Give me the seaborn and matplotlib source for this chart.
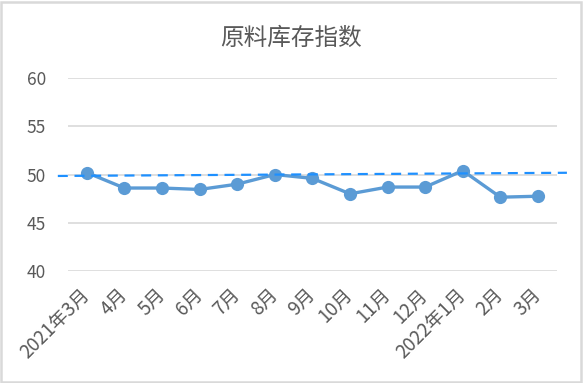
import matplotlib
matplotlib.use("Agg")
import matplotlib.pyplot as plt
import seaborn as sns
import pandas as pd
from matplotlib.patches import Rectangle

months = ["2021年3月", "4月", "5月", "6月", "7月", "8月", "9月", "10月",
          "11月", "12月", "2022年1月", "2月", "3月"]
values = [50.2, 48.6, 48.6, 48.45, 49.0, 50.0, 49.6, 48.0, 48.7, 48.7, 50.4, 47.65, 47.75]
trend_x = [-0.77, 12.77]
trend_y = [49.85, 50.18]
y_ticks = [40, 45, 50, 55, 60]
title = "原料库存指数"

sns.set_theme(style="white")
plt.rcParams["font.family"] = ["Noto Sans CJK SC", "DejaVu Sans"]

text_color = "#595959"
grid_color = "#D9D9D9"
line_color = "#5B9BD5"
trend_color = "#1E90FF"

fig = plt.figure(figsize=(5.83, 3.83), dpi=100)
ax = fig.add_axes([0.1166, 0.2924, 0.8384, 0.5039])

df = pd.DataFrame({"x": range(len(months)), "y": values})
sns.lineplot(data=df, x="x", y="y", ax=ax, color=line_color, linewidth=2.4,
             marker="o", markersize=9.5, markeredgewidth=0, zorder=3)
ax.plot(trend_x, trend_y, color=trend_color, linewidth=1.6,
        dashes=(4.5, 3), clip_on=False, zorder=4)

ax.set_xlim(-0.5, len(months) - 0.5)
ax.set_ylim(40, 60)
ax.set_yticks(y_ticks)
ax.set_yticklabels([str(t) for t in y_ticks])
ax.set_xticks(range(len(months)))
ax.set_xticklabels(months, rotation=45, ha="right", va="center",
                   rotation_mode="anchor")
ax.tick_params(axis="x", length=0, pad=15, labelsize=13.5, colors=text_color)
ax.tick_params(axis="y", length=0, pad=16, labelsize=12.5, colors=text_color)
ax.yaxis.grid(True, color=grid_color, linewidth=1.2)
ax.set_axisbelow(True)
for s in ax.spines.values():
    s.set_visible(False)
ax.set_xlabel("")
ax.set_ylabel("")

fig.text(0.5, 0.9, title, ha="center", va="center", fontsize=17,
         color=text_color)

fig.patches.append(Rectangle((0.002, 0.003), 0.994, 0.993,
                             transform=fig.transFigure, fill=False,
                             edgecolor="#D9D9D9", linewidth=1.8))

fig.savefig("out.png", dpi=100)
